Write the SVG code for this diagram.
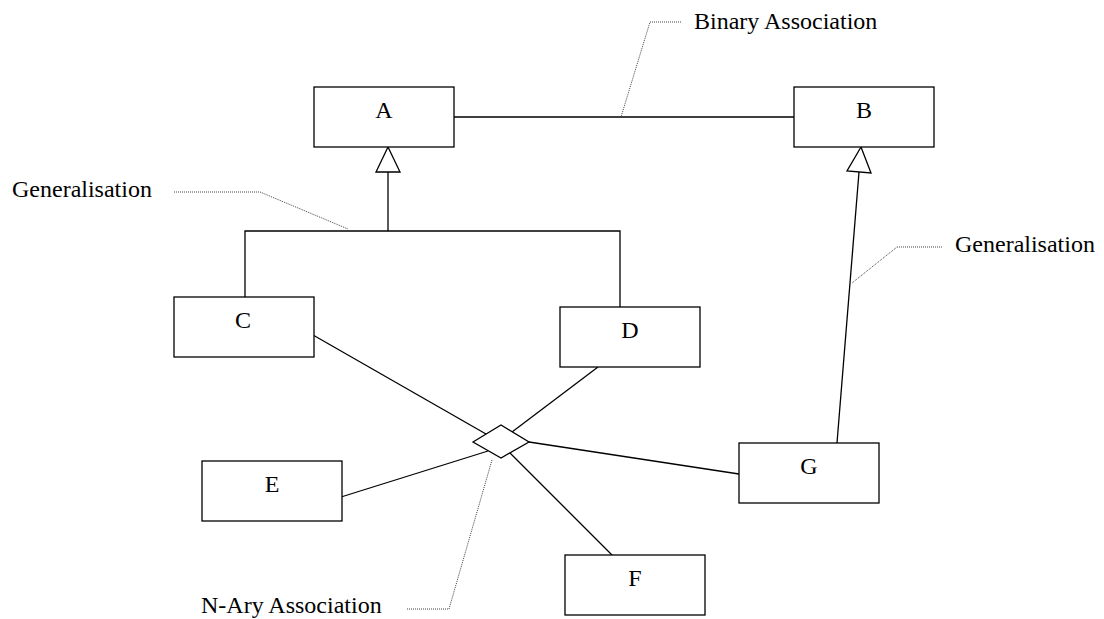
<svg xmlns="http://www.w3.org/2000/svg" width="1104" height="619" viewBox="0 0 1104 619">
<style>
.box{fill:#fff;stroke:#000;stroke-width:1.3}
.lbl{font-family:"Liberation Serif","Times New Roman",serif;font-size:24px;fill:#000}
.mid{text-anchor:middle}
.ln{fill:none;stroke:#000;stroke-width:1.3}
.tri{fill:#fff;stroke:#000;stroke-width:1.3}
.dot{fill:none;stroke:#444;stroke-width:1;stroke-dasharray:1 1}
</style>
<rect width="1104" height="619" fill="#fff"/>
<g id="connectors">
<line class="ln" x1="454" y1="117" x2="794" y2="117"/>
<polyline class="ln" points="388,172 388,231"/>
<polyline class="ln" points="245,297 245,231 620,231 620,307"/>
<polygon class="tri" points="388,147 376,172 400,172"/>
<line class="ln" x1="837" y1="443" x2="859" y2="172"/>
<polygon class="tri" points="861,147 847,171 871,173"/>
<line class="ln" x1="313" y1="335" x2="486" y2="434"/>
<line class="ln" x1="598" y1="367" x2="512" y2="432"/>
<line class="ln" x1="341" y1="497" x2="488" y2="451"/>
<line class="ln" x1="612" y1="555" x2="510" y2="453"/>
<line class="ln" x1="529" y1="442" x2="739" y2="474"/>
<polygon id="nary" class="tri" points="473,442 501,425 529,442 501,458"/>
<polyline class="dot" points="681,22 650,22 621,117"/>
<polyline class="dot" points="174,192 260,192 348,229"/>
<polyline class="dot" points="942,247 897,247 852,283"/>
<polyline class="dot" points="407,609 449,609 492,460"/>
</g>
<g id="A"><rect class="box" x="314" y="87" width="140" height="60"/><text class="lbl mid" x="384" y="118">A</text></g>
<g id="B"><rect class="box" x="794" y="87" width="140" height="60"/><text class="lbl mid" x="864" y="118">B</text></g>
<g id="C"><rect class="box" x="174" y="297" width="140" height="60"/><text class="lbl mid" x="243" y="328">C</text></g>
<g id="D"><rect class="box" x="560" y="307" width="140" height="60"/><text class="lbl mid" x="630" y="338">D</text></g>
<g id="E"><rect class="box" x="202" y="461" width="140" height="60"/><text class="lbl mid" x="272" y="492">E</text></g>
<g id="F"><rect class="box" x="565" y="555" width="140" height="60"/><text class="lbl mid" x="635" y="586">F</text></g>
<g id="G"><rect class="box" x="739" y="443" width="140" height="60"/><text class="lbl mid" x="809" y="474">G</text></g>
<g id="labels">
<text class="lbl" x="694" y="29">Binary Association</text>
<text class="lbl" x="12" y="197">Generalisation</text>
<text class="lbl" x="955" y="252">Generalisation</text>
<text class="lbl" x="201" y="613">N-Ary Association</text>
</g>
</svg>
